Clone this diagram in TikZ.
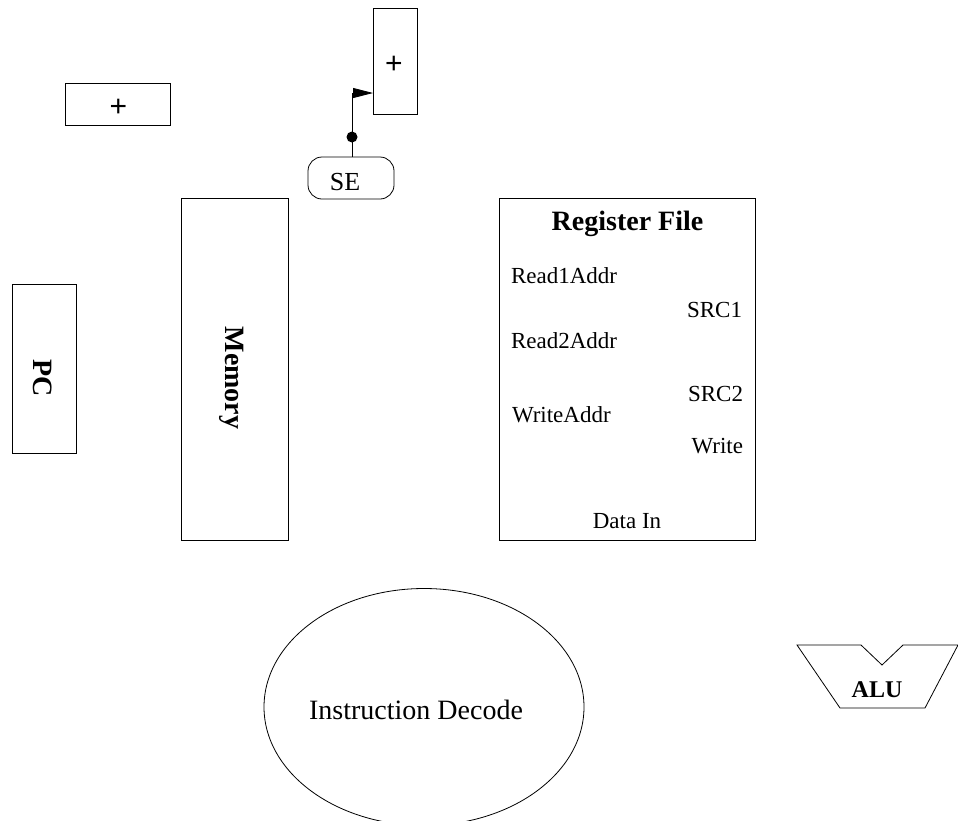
\documentclass[tikz,border=0pt]{standalone}
\usepackage{fontspec}
\setmainfont{Liberation Serif}
\setsansfont{Liberation Sans}
\usetikzlibrary{shapes.geometric,arrows.meta}
\begin{document}
\begin{tikzpicture}[x=1pt,y=-1pt,
  every node/.style={inner sep=0pt,outer sep=0pt},
  box/.style={draw,line width=0.8pt},
  lbl/.style={font=\fontsize{23}{25}\selectfont},
  plus/.style={font=\fontsize{30}{32}\sffamily,anchor=center},
  bigbold/.style={font=\fontsize{28}{30}\selectfont\bfseries},
  conn/.style={line width=0.8pt}]
\useasboundingbox (0,0) rectangle (958,820);
% top-left adder
\node[box,minimum width=105pt,minimum height=42pt] (add1) at (117.5,104) {};
\node[plus] (add1t) at (118.5,108) {\selectfont +};
% top adder
\node[box,minimum width=44pt,minimum height=106pt] (add2) at (395,61) {};
\node[plus] (add2t) at (394,65) {\selectfont +};
% SE
\node[box,rounded corners=14pt,minimum width=86pt,minimum height=42pt] (se) at (351,178) {};
\node[font=\fontsize{26}{28}\selectfont,anchor=base] (set) at (345,190) {SE};
\coordinate (dot) at (352,137);
\coordinate (bend) at (352,93);
\coordinate (tip) at (373,93);
\draw[conn] (se.north -| dot) -- (dot);
\fill (dot) circle (5.5pt);
\draw[conn,-{Triangle[length=20pt,width=10pt]}] (dot) -- (bend) -- (add2.west |- tip);
% Memory
\node[box,minimum width=107pt,minimum height=342pt] (mem) at (234.5,369) {};
\node[bigbold,rotate=-90] (memt) at (232,378) {Memory};
% PC
\node[box,minimum width=64pt,minimum height=169pt] (pc) at (44,368.5) {};
\node[bigbold,rotate=-90] (pct) at (43,378) {PC};
% Register file
\node[box,minimum width=256pt,minimum height=342pt] (rf) at (627,369) {};
\node[bigbold,anchor=base] (rft) at (627.5,230) {Register File};
\node[lbl,anchor=base west] (r1) at (511,283) {Read1Addr};
\node[lbl,anchor=base east] (s1) at (742,317) {SRC1};
\node[lbl,anchor=base west] (r2) at (511,348) {Read2Addr};
\node[lbl,anchor=base east] (s2) at (743,401) {SRC2};
\node[lbl,anchor=base west] (wa) at (512,422) {WriteAddr};
\node[lbl,anchor=base east] (wr) at (743,453) {Write};
\node[lbl,anchor=base] (di) at (627,528) {Data In};
% Instruction decode
\node[draw,ellipse,line width=0.8pt,minimum width=320pt,minimum height=237pt] (id) at (424,707) {};
\node[font=\fontsize{28}{30}\selectfont,anchor=base] (idt) at (416,719) {Instruction Decode};
% ALU
\draw[line width=0.8pt] (797,645) -- (861,645) -- (882,665) -- (903,645) -- (958,645)
  -- (925,708) -- (840,708) -- cycle;
\node[font=\fontsize{24}{26}\selectfont\bfseries,anchor=base] (alu) at (877,697) {ALU};
\end{tikzpicture}
\end{document}
